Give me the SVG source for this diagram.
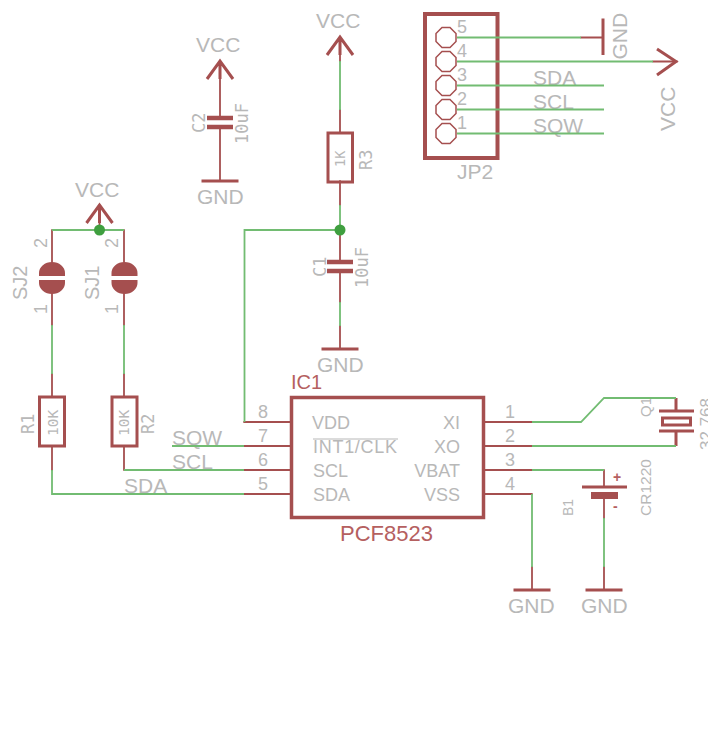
<svg xmlns="http://www.w3.org/2000/svg" width="708" height="749" viewBox="0 0 708 749">
<style>
.s{fill:none;stroke:#a54f4f;stroke-width:1.800;stroke-linecap:round;stroke-linejoin:round}
.b{fill:none;stroke:#a54f4f;stroke-width:3;stroke-linejoin:miter}
.p{fill:#a54f4f;stroke:none}
.w{fill:none;stroke:#72bc72;stroke-width:1.800;stroke-linejoin:miter}
.j{fill:#3f9f3f}
text{font-family:"Liberation Sans",Arial,sans-serif;fill:#b8b8b8}
.l{font-size:21px}
.m{font-size:18px}
.c{font-size:17px;font-family:"DejaVu Sans Mono","Liberation Mono",monospace}
.r{fill:#b56060}
</style>
<defs>
<path id="vcc" class="b" d="M-13 18L0 0L13 18M0 0V18"/>
<path id="gnd" class="b" d="M-18.500 0H18.500"/>
<polygon id="pad" points="-4,-10 4,-10 10,-4 10,4 4,10 -4,10 -10,4 -10,-4" fill="none" stroke="#a54f4f" stroke-width="1.500"/>
</defs>

<g id="SJ2">
<path class="s" d="M52 230V262M52 294V325"/>
<path class="p" d="M39 276V273A13 11 0 0 1 65 273V276ZM39 280V283A13 11 0 0 0 65 283V280Z"/>
<text class="m" transform="translate(27 300) rotate(-90)" style="font-size:20px">SJ2</text>
<text class="m" transform="translate(47 248) rotate(-90)">2</text>
<text class="m" transform="translate(47 314) rotate(-90)">1</text>
</g>
<g id="SJ1">
<path class="s" d="M124 230V262M124 294V325"/>
<path class="p" d="M111.500 276V273A13 11 0 0 1 137.500 273V276ZM111.500 280V283A13 11 0 0 0 137.500 283V280Z"/>
<text class="m" transform="translate(99 300) rotate(-90)" style="font-size:20px">SJ1</text>
<text class="m" transform="translate(118 248) rotate(-90)">2</text>
<text class="m" transform="translate(118 314) rotate(-90)">1</text>
</g>
<g id="VCC1">
<use href="#vcc" x="99.500" y="205"/>
<path class="s" d="M99.500 205V230"/>
<text class="l" x="75" y="197">VCC</text>
</g>
<g id="R1">
<path class="s" d="M52 374V397M52 446V470"/>
<rect class="b" x="39.500" y="397" width="25" height="49" fill="none"/>
<text class="c" transform="translate(34 434) rotate(-90)">R1</text>
<text class="c" transform="translate(58 436) rotate(-90)" style="font-size:14.500px">10K</text>
</g>
<g id="R2">
<path class="s" d="M124 374V397M124 446V470"/>
<rect class="b" x="112" y="397" width="25" height="49" fill="none"/>
<text class="c" transform="translate(154 434) rotate(-90)">R2</text>
<text class="c" transform="translate(129 436) rotate(-90)" style="font-size:14.500px">10K</text>
</g>
<g id="C2">
<use href="#vcc" x="220" y="61"/>
<path class="s" d="M220 61V118M220 127V181"/>
<path class="b" style="stroke-width:4.500" d="M207 118H233M207 127H233"/>
<use href="#gnd" x="220" y="181"/>
<text class="l" x="196" y="52">VCC</text>
<text class="l" x="197" y="204">GND</text>
<text class="c" transform="translate(205 133) rotate(-90)">C2</text>
<text class="c" transform="translate(248 144) rotate(-90)">10uF</text>
</g>
<g id="R3">
<use href="#vcc" x="340" y="37"/>
<path class="s" d="M340 37V61M340 110V133M340 181V205"/>
<rect class="b" x="328" y="133" width="24.500" height="49" fill="none"/>
<text class="l" x="316" y="28">VCC</text>
<text class="c" transform="translate(372 170) rotate(-90)">R3</text>
<text class="c" transform="translate(345 167) rotate(-90)" style="font-size:13.500px">1K</text>
</g>
<g id="C1">
<path class="s" d="M340 230V262M340 271V302M340 326V349"/>
<path class="b" style="stroke-width:4.500" d="M327 262H353M327 271H353"/>
<use href="#gnd" x="340" y="349"/>
<text class="l" x="317" y="372">GND</text>
<text class="c" transform="translate(326 277) rotate(-90)">C1</text>
<text class="c" transform="translate(368 288) rotate(-90)">10uF</text>
</g>
<g id="JP2">
<rect class="b" x="425" y="14" width="72.500" height="144" style="stroke-width:4"/>
<use href="#pad" x="446" y="37.500"/>
<use href="#pad" x="446" y="61.500"/>
<use href="#pad" x="446" y="85.500"/>
<use href="#pad" x="446" y="109.500"/>
<use href="#pad" x="446" y="133.500"/>
<text class="m" x="457" y="33">5</text>
<text class="m" x="457" y="57">4</text>
<text class="m" x="457" y="81">3</text>
<text class="m" x="457" y="105">2</text>
<text class="m" x="457" y="129">1</text>
<text class="l" x="457" y="179">JP2</text>
<text class="l" x="533" y="85">SDA</text>
<text class="l" x="533" y="109">SCL</text>
<text class="l" x="533" y="133">SQW</text>
</g>
<g id="GND-JP2">
<path class="s" d="M581 37.500H603"/>
<path class="b" d="M603 18.500V55"/>
<text class="l" transform="translate(627 59.500) rotate(-90)">GND</text>
</g>
<g id="VCC-JP2">
<path class="s" d="M653 61.500H677"/>
<path class="b" d="M657 49L676 61.500L657 75"/>
<text class="l" transform="translate(675 131) rotate(-90)">VCC</text>
</g>
<g id="IC1">
<path class="s" d="M244 422H291M244 446H291M244 470H291M244 494H291M483 422H532M483 446H532M483 470H532M483 494H532"/>
<rect class="b" x="291.500" y="397.500" width="192" height="120" style="stroke-width:3.500"/>
<text class="l r" x="291" y="389" style="font-size:20px">IC1</text>
<text class="l r" x="340" y="541" style="font-size:22px">PCF8523</text>
<text class="m" x="312" y="429">VDD</text>
<text class="m" x="313" y="453" textLength="84">INT1/CLK</text>
<path d="M313 439H398" stroke="#b8b8b8" stroke-width="1.200"/>
<text class="m" x="313" y="477">SCL</text>
<text class="m" x="313" y="501">SDA</text>
<text class="m" x="460" y="429" text-anchor="end">XI</text>
<text class="m" x="460" y="453" text-anchor="end">XO</text>
<text class="m" x="460" y="477" text-anchor="end">VBAT</text>
<text class="m" x="460" y="501" text-anchor="end">VSS</text>
<text class="m" x="258" y="418">8</text>
<text class="m" x="258" y="442">7</text>
<text class="m" x="258" y="466">6</text>
<text class="m" x="258" y="490">5</text>
<text class="m" x="505" y="418">1</text>
<text class="m" x="505" y="442">2</text>
<text class="m" x="505" y="466">3</text>
<text class="m" x="505" y="490">4</text>
</g>
<g id="Q1">
<path class="b" d="M676 398V411M676 431V446M659 411H694M659 431H694"/>
<rect class="b" x="662.500" y="418" width="28" height="7"/>
<text class="c" transform="translate(651 417) rotate(-90)" style="font-size:15px;font-family:'Liberation Sans',sans-serif">Q1</text>
<text class="m" transform="translate(712 450) rotate(-90)" style="font-size:17px">32.768</text>
</g>
<g id="B1">
<path class="s" d="M604 470V487M604 499V518M604 567V590"/>
<path class="b" d="M582 487H627"/>
<rect class="p" x="591" y="492" width="27" height="7"/>
<use href="#gnd" x="604" y="590"/>
<text class="l" x="581" y="613">GND</text>
<text class="l r" x="613" y="482" style="font-size:14px;font-weight:bold">+</text>
<text class="l r" x="613" y="511" style="font-size:14px;font-weight:bold">-</text>
<text class="m" transform="translate(573 516) rotate(-90)" style="font-size:14px">B1</text>
<text class="m" transform="translate(651 516) rotate(-90)" style="font-size:15.500px">CR1220</text>
</g>
<g id="GND-VSS">
<path class="s" d="M532 567V590"/>
<use href="#gnd" x="532" y="590"/>
<text class="l" x="508" y="613">GND</text>
</g>
<g id="net-labels">
<text class="l" x="172" y="445">SQW</text>
<text class="l" x="172" y="469">SCL</text>
<text class="l" x="124" y="493">SDA</text>
</g>

<g id="connectors">
<path class="w" d="M52 230H124"/>
<path class="w" d="M52 325V374M124 325V374"/>
<path class="w" d="M340 61V110M340 205V230M340 302V326"/>
<path class="w" d="M340 230H244.500V422"/>
<path class="w" d="M172 446H244"/>
<path class="w" d="M124 470H244"/>
<path class="w" d="M52 470V494H244"/>
<path class="w" d="M457 37.500H581M457 61.500H653M457 85.500H604M457 109.500H604M457 133.500H604"/>
<path class="w" d="M532 422H581L604 398H676"/>
<path class="w" d="M532 446H676"/>
<path class="w" d="M532 470H604"/>
<path class="w" d="M532 494V567"/>
<path class="w" d="M604 518V567"/>
<circle class="j" cx="99.500" cy="230" r="5.500"/>
<circle class="j" cx="340" cy="230" r="5.500"/>
</g>
</svg>
